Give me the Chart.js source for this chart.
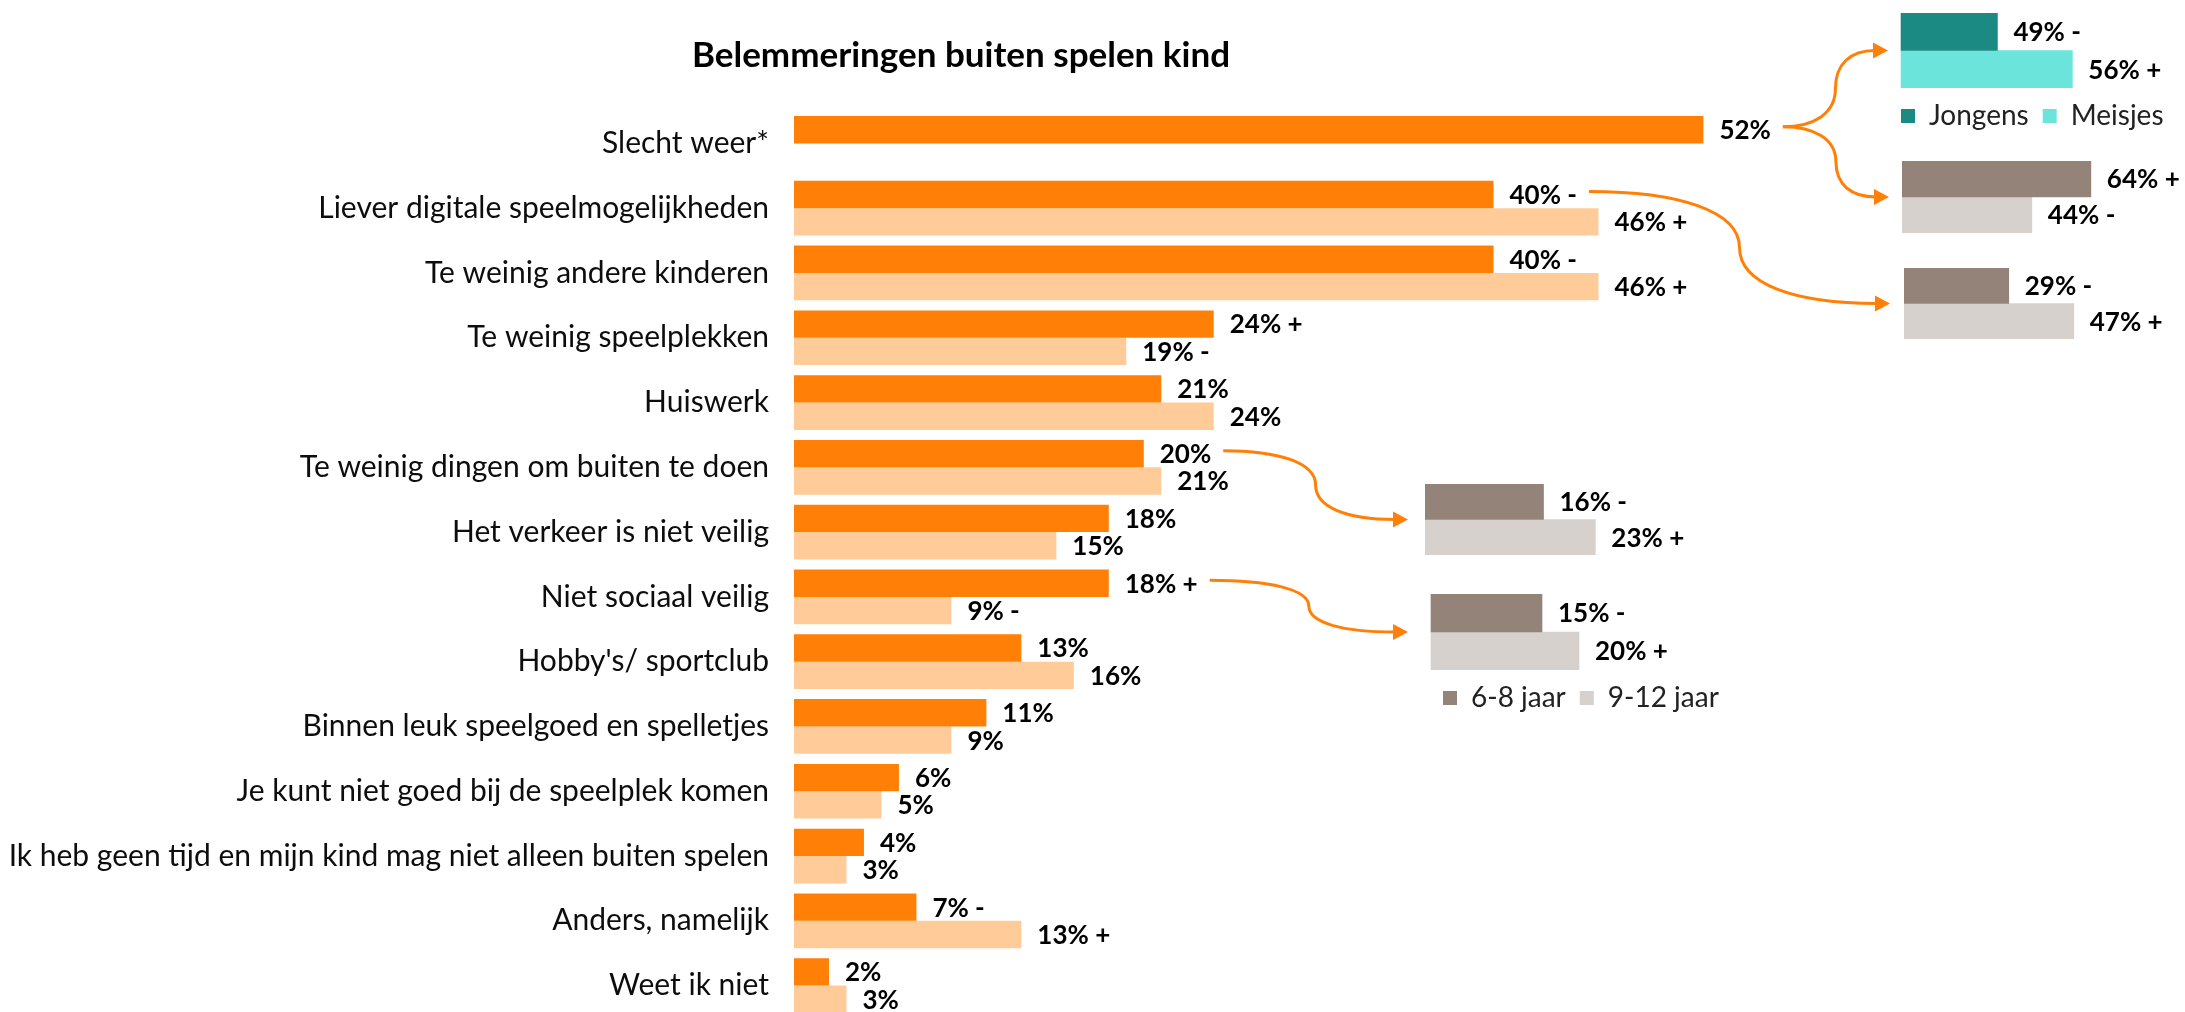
<!DOCTYPE html>
<html>
<head>
<meta charset="utf-8">
<script src="https://cdn.jsdelivr.net/npm/chart.js@4.4.0/dist/chart.umd.min.js"></script>
<style>
    html, body { margin: 0; padding: 0; background: #fff; overflow: hidden; }
    #pagina { position: relative; width: 2185px; height: 1012px; overflow: hidden; }
    .vak { position: absolute; }
    .vak canvas { display: block; }
    #pijlen { position: absolute; left: 0; top: 0; pointer-events: none; }
</style>
</head>
<body>
<div id="pagina">
    <div class="vak" style="left:0px;top:0px"><canvas id="chartHoofd" width="1922" height="1018"></canvas></div>
    <div class="vak" style="left:1887px;top:13px"><canvas id="chartGeslacht" width="340" height="127"></canvas></div>
    <div class="vak" style="left:1902px;top:161px"><canvas id="chartWeerLeeftijd" width="283" height="72"></canvas></div>
    <div class="vak" style="left:1904px;top:268px"><canvas id="chartDigitaalLeeftijd" width="281" height="71"></canvas></div>
    <div class="vak" style="left:1425px;top:484px"><canvas id="chartDingenLeeftijd" width="300" height="71"></canvas></div>
    <div class="vak" style="left:1429px;top:594px"><canvas id="chartSociaalLeeftijd" width="340" height="128"></canvas></div>
    <canvas id="pijlen" width="2185" height="1012"></canvas>
</div>
<script>
// data hoofdgrafiek
var categorieen = [
    "Slecht weer*",
    "Liever digitale speelmogelijkheden",
    "Te weinig andere kinderen",
    "Te weinig speelplekken",
    "Huiswerk",
    "Te weinig dingen om buiten te doen",
    "Het verkeer is niet veilig",
    "Niet sociaal veilig",
    "Hobby's/ sportclub",
    "Binnen leuk speelgoed en spelletjes",
    "Je kunt niet goed bij de speelplek komen",
    "Ik heb geen tijd en mijn kind mag niet alleen buiten spelen",
    "Anders, namelijk",
    "Weet ik niet"
];
var waardenDonker = [52, 40, 40, 24, 21, 20, 18, 18, 13, 11, 6, 4, 7, 2];
var tekensDonker = ["", " -", " -", " +", "", "", "", " +", "", "", "", "", " -", ""];
var waardenLicht = [null, 46, 46, 19, 24, 21, 15, 9, 16, 9, 5, 3, 13, 3];
var tekensLicht = ["", " +", " +", " -", "", "", "", " -", "", "", "", "", " +", ""];

// uitsplitsingen
var geslachtLabels = ["Jongens", "Meisjes"];
var geslachtWeer = [49, 56];
var geslachtWeerTekens = [" -", " +"];

var leeftijdLabels = ["6-8 jaar", "9-12 jaar"];
var leeftijdWeer = [64, 44];
var leeftijdWeerTekens = [" +", " -"];
var leeftijdDigitaal = [29, 47];
var leeftijdDigitaalTekens = [" -", " +"];
var leeftijdDingen = [16, 23];
var leeftijdDingenTekens = [" -", " +"];
var leeftijdSociaal = [15, 20];
var leeftijdSociaalTekens = [" -", " +"];

var ORANJE = '#FF7F07';
var LICHTORANJE = '#FFCC99';
var LETTER = 'Lato, "Open Sans", sans-serif';
var LABELFONT = 'bold 26px ' + LETTER;

// waarde + teken achter elke balk
var waardeLabels = {
    id: 'waardeLabels',
    afterDatasetsDraw: function (chart) {
        var ctx = chart.ctx;
        ctx.save();
        ctx.font = LABELFONT;
        ctx.fillStyle = '#000';
        ctx.textBaseline = 'middle';
        chart.data.datasets.forEach(function (ds, di) {
            chart.getDatasetMeta(di).data.forEach(function (bar, i) {
                if (ds.data[i] == null) return;
                ctx.fillText(ds.data[i] + '%' + (ds.tekens[i] || ''), bar.x + 16, bar.y + 1);
            });
        });
        ctx.restore();
    }
};

var ctxHoofd = document.getElementById('chartHoofd').getContext('2d');
var chartHoofd = new Chart(ctxHoofd, {
    type: 'bar',
    data: {
        labels: categorieen,
        datasets: [{
            label: 'Donker',
            data: waardenDonker,
            tekens: tekensDonker,
            backgroundColor: ORANJE,
            categoryPercentage: 0.845,
            barPercentage: 1
        }, {
            label: 'Licht',
            data: waardenLicht,
            tekens: tekensLicht,
            backgroundColor: LICHTORANJE,
            categoryPercentage: 0.845,
            barPercentage: 1
        }]
    },
    options: {
        indexAxis: 'y',
        animation: false,
        responsive: false,
        layout: { padding: 0 },
        plugins: {
            legend: { display: false },
            tooltip: { enabled: false },
            title: {
                display: true,
                text: 'Belemmeringen buiten spelen kind',
                color: '#000',
                font: { family: LETTER, size: 35, weight: 'bold' },
                padding: { top: 35, bottom: 34 }
            }
        },
        scales: {
            x: { display: false, min: 0, max: 64.5 },
            y: {
                grid: { display: false, drawTicks: false },
                border: { display: false },
                ticks: { color: '#0d0d0d', font: { family: LETTER, size: 30 }, padding: 25 },
                afterFit: function (scale) {
                    scale.width = 794;
                    scale.paddingTop = 0;
                    scale.paddingBottom = 0;
                }
            }
        }
    },
    plugins: [waardeLabels]
});

function maakMiniChart(id, labels, waarden, tekens, kleuren, schaal, legenda) {
    var ctx = document.getElementById(id).getContext('2d');
    var datasets = [];
    for (var i = 0; i < labels.length; i++) {
        datasets.push({
            label: labels[i],
            data: [waarden[i]],
            tekens: [tekens[i]],
            backgroundColor: kleuren[i],
            base: schaal.basis,
            categoryPercentage: 1,
            barPercentage: 1
        });
    }
    return new Chart(ctx, {
        type: 'bar',
        data: { labels: [''], datasets: datasets },
        options: {
            indexAxis: 'y',
            animation: false,
            responsive: false,
            layout: { padding: 0 },
            plugins: {
                tooltip: { enabled: false },
                legend: {
                    display: legenda,
                    position: 'bottom',
                    align: 'start',
                    labels: {
                        boxWidth: 14,
                        boxHeight: 14,
                        padding: 14,
                        color: '#222',
                        font: { family: LETTER, size: 28 }
                    }
                }
            },
            scales: {
                x: { display: false, min: schaal.min, max: schaal.max },
                y: { display: false }
            }
        },
        plugins: [waardeLabels]
    });
}

var geslachtKleuren = ['#1B8A82', '#6BE5DB'];
var leeftijdKleuren = ['#948379', '#D6D1CD'];

var chartGeslacht = maakMiniChart('chartGeslacht', geslachtLabels, geslachtWeer, geslachtWeerTekens,
    geslachtKleuren, { min: 38.69, max: 70.44, basis: 40 }, true);
var chartWeerLeeftijd = maakMiniChart('chartWeerLeeftijd', leeftijdLabels, leeftijdWeer, leeftijdWeerTekens,
    leeftijdKleuren, { min: 0, max: 95.9 }, false);
var chartDigitaalLeeftijd = maakMiniChart('chartDigitaalLeeftijd', leeftijdLabels, leeftijdDigitaal, leeftijdDigitaalTekens,
    leeftijdKleuren, { min: 0, max: 77.8 }, false);
var chartDingenLeeftijd = maakMiniChart('chartDingenLeeftijd', leeftijdLabels, leeftijdDingen, leeftijdDingenTekens,
    leeftijdKleuren, { min: 0, max: 40.5 }, false);
var chartSociaalLeeftijd = maakMiniChart('chartSociaalLeeftijd', leeftijdLabels, leeftijdSociaal, leeftijdSociaalTekens,
    leeftijdKleuren, { min: -0.27, max: 45.68 }, true);

// oranje pijlen van hoofdgrafiek naar uitsplitsingen
var pctx = document.getElementById('pijlen').getContext('2d');

function beginPunt(index) {
    var bar = chartHoofd.getDatasetMeta(0).data[index];
    pctx.font = LABELFONT;
    var tekst = waardenDonker[index] + '%' + tekensDonker[index];
    return { x: bar.x + 16 + pctx.measureText(tekst).width + 12, y: bar.y - 3 };
}

function eindPunt(chart, basis, gat) {
    var vak = chart.canvas.parentNode;
    var ca = chart.chartArea;
    return {
        x: vak.offsetLeft + chart.scales.x.getPixelForValue(basis) - gat,
        y: vak.offsetTop + (ca.top + ca.bottom) / 2
    };
}

function tekenPijl(a, b) {
    var xm = (a.x + b.x) / 2, ym = (a.y + b.y) / 2;
    var kop = 15;
    pctx.save();
    pctx.strokeStyle = ORANJE;
    pctx.fillStyle = ORANJE;
    pctx.lineWidth = 3;
    pctx.beginPath();
    pctx.moveTo(a.x, a.y);
    pctx.bezierCurveTo(a.x + (xm - a.x) * 0.6, a.y, xm, a.y + (ym - a.y) * 0.35, xm, ym);
    pctx.bezierCurveTo(xm, ym + (b.y - ym) * 0.65, xm + (b.x - kop - xm) * 0.4, b.y, b.x - kop + 2, b.y);
    pctx.stroke();
    pctx.beginPath();
    pctx.moveTo(b.x, b.y);
    pctx.lineTo(b.x - kop, b.y - 8);
    pctx.lineTo(b.x - kop, b.y + 8);
    pctx.closePath();
    pctx.fill();
    pctx.restore();
}

tekenPijl(beginPunt(0), eindPunt(chartGeslacht, 40, 13));
tekenPijl(beginPunt(0), eindPunt(chartWeerLeeftijd, 0, 13));
tekenPijl(beginPunt(1), eindPunt(chartDigitaalLeeftijd, 0, 14));
tekenPijl(beginPunt(5), eindPunt(chartDingenLeeftijd, 0, 17));
tekenPijl(beginPunt(7), eindPunt(chartSociaalLeeftijd, 0, 23));
</script>
</body>
</html>
